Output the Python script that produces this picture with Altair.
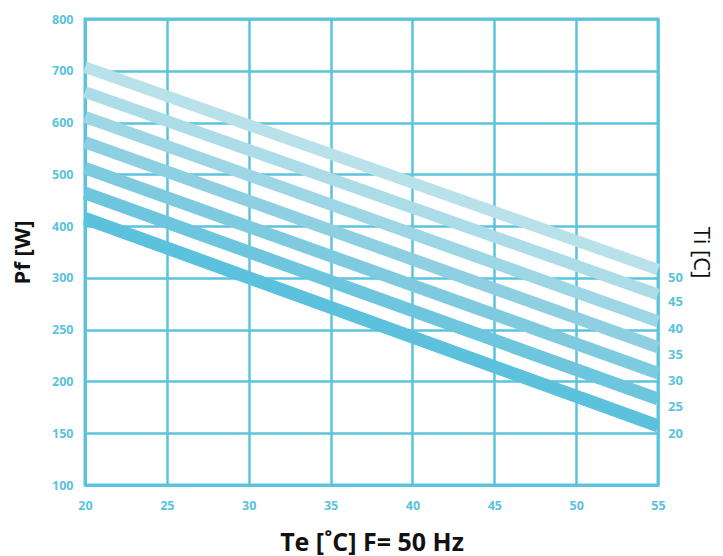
import altair as alt
import pandas as pd

# Data
ti_values = [20, 25, 30, 35, 40, 45, 50]
pf_at_te20 = [415, 464, 512, 562, 611, 659, 707]
pf_at_te55 = [157, 183, 208, 233, 258, 284, 316]
te_start, te_end = 20, 55

x_ticks = [20, 25, 30, 35, 40, 45, 50, 55]
y_ticks = [100, 150, 200, 250, 300, 400, 500, 600, 700, 800]

line_colors = ["#5bc1dc", "#6dc6de", "#7ecbe0", "#8ed0e2", "#9dd6e5", "#abdce8", "#b8e1e9"]
line_widths = [13, 11.5, 11.5, 11.5, 11.5, 11.5, 10.5]

BLUE = "#5bc3dc"
W, H = 573, 466

rows = []
for ti, a, b in zip(ti_values, pf_at_te20, pf_at_te55):
    rows.append({"Ti": ti, "Te": te_start, "Pf": a})
    rows.append({"Ti": ti, "Te": te_end, "Pf": b})
df = pd.DataFrame(rows)

x_scale = alt.Scale(domain=[20, 55], nice=False, zero=False)
y_scale = alt.Scale(domain=[100, 300, 800], range=[H, H * 5 / 9, 0], nice=False, zero=False)

lines = alt.Chart(df).mark_line(strokeCap="butt").encode(
    x=alt.X("Te:Q", scale=x_scale,
            axis=alt.Axis(values=x_ticks, title="Te [˚C] F= 50 Hz", titlePadding=19,
                          titleFontSize=25, labelPadding=14, grid=True, labelFlush=False)),
    y=alt.Y("Pf:Q", scale=y_scale,
            axis=alt.Axis(values=y_ticks, title="Pf [W]", titlePadding=17,
                          labelPadding=12, grid=True, labelFlush=False)),
    color=alt.Color("Ti:O", scale=alt.Scale(domain=ti_values, range=line_colors), legend=None),
    strokeWidth=alt.StrokeWidth("Ti:O", scale=alt.Scale(domain=ti_values, range=line_widths), legend=None),
    detail="Ti:O",
)

labels = alt.Chart(df).transform_filter(alt.datum.Te == te_end).mark_text(
    align="left", baseline="middle", dx=10, dy=8, font="Open Sans",
    fontWeight="bold", fontSize=13, color=BLUE
).encode(
    x=alt.X("Te:Q", scale=x_scale),
    y=alt.Y("Pf:Q", scale=y_scale,
            axis=alt.Axis(orient="right", labels=False, ticks=False, domain=False, grid=False,
                          title="Ti [C]", titleAngle=90, titlePadding=30,
                          titleFontSize=22, titleFontWeight="normal")),
    text=alt.Text("Ti:Q"),
)

chart = alt.layer(lines, labels).resolve_axis(y="independent").properties(
    width=W, height=H,
    autosize=alt.AutoSizeParams(type="none"),
    padding={"left": 77, "top": 11, "right": 57, "bottom": 71},
).configure_view(
    stroke=BLUE, strokeWidth=3
).configure_axis(
    labelFont="Open Sans", labelFontWeight="bold", labelFontSize=12.5, labelColor=BLUE,
    titleFont="Open Sans", titleFontWeight="bold", titleFontSize=22, titleColor="#111111",
    ticks=False, domainColor=BLUE, domainWidth=3,
    gridColor=BLUE, gridWidth=2.5, gridOpacity=1,
)

chart.save("out.html", embed_options={"renderer": "svg", "actions": False})
